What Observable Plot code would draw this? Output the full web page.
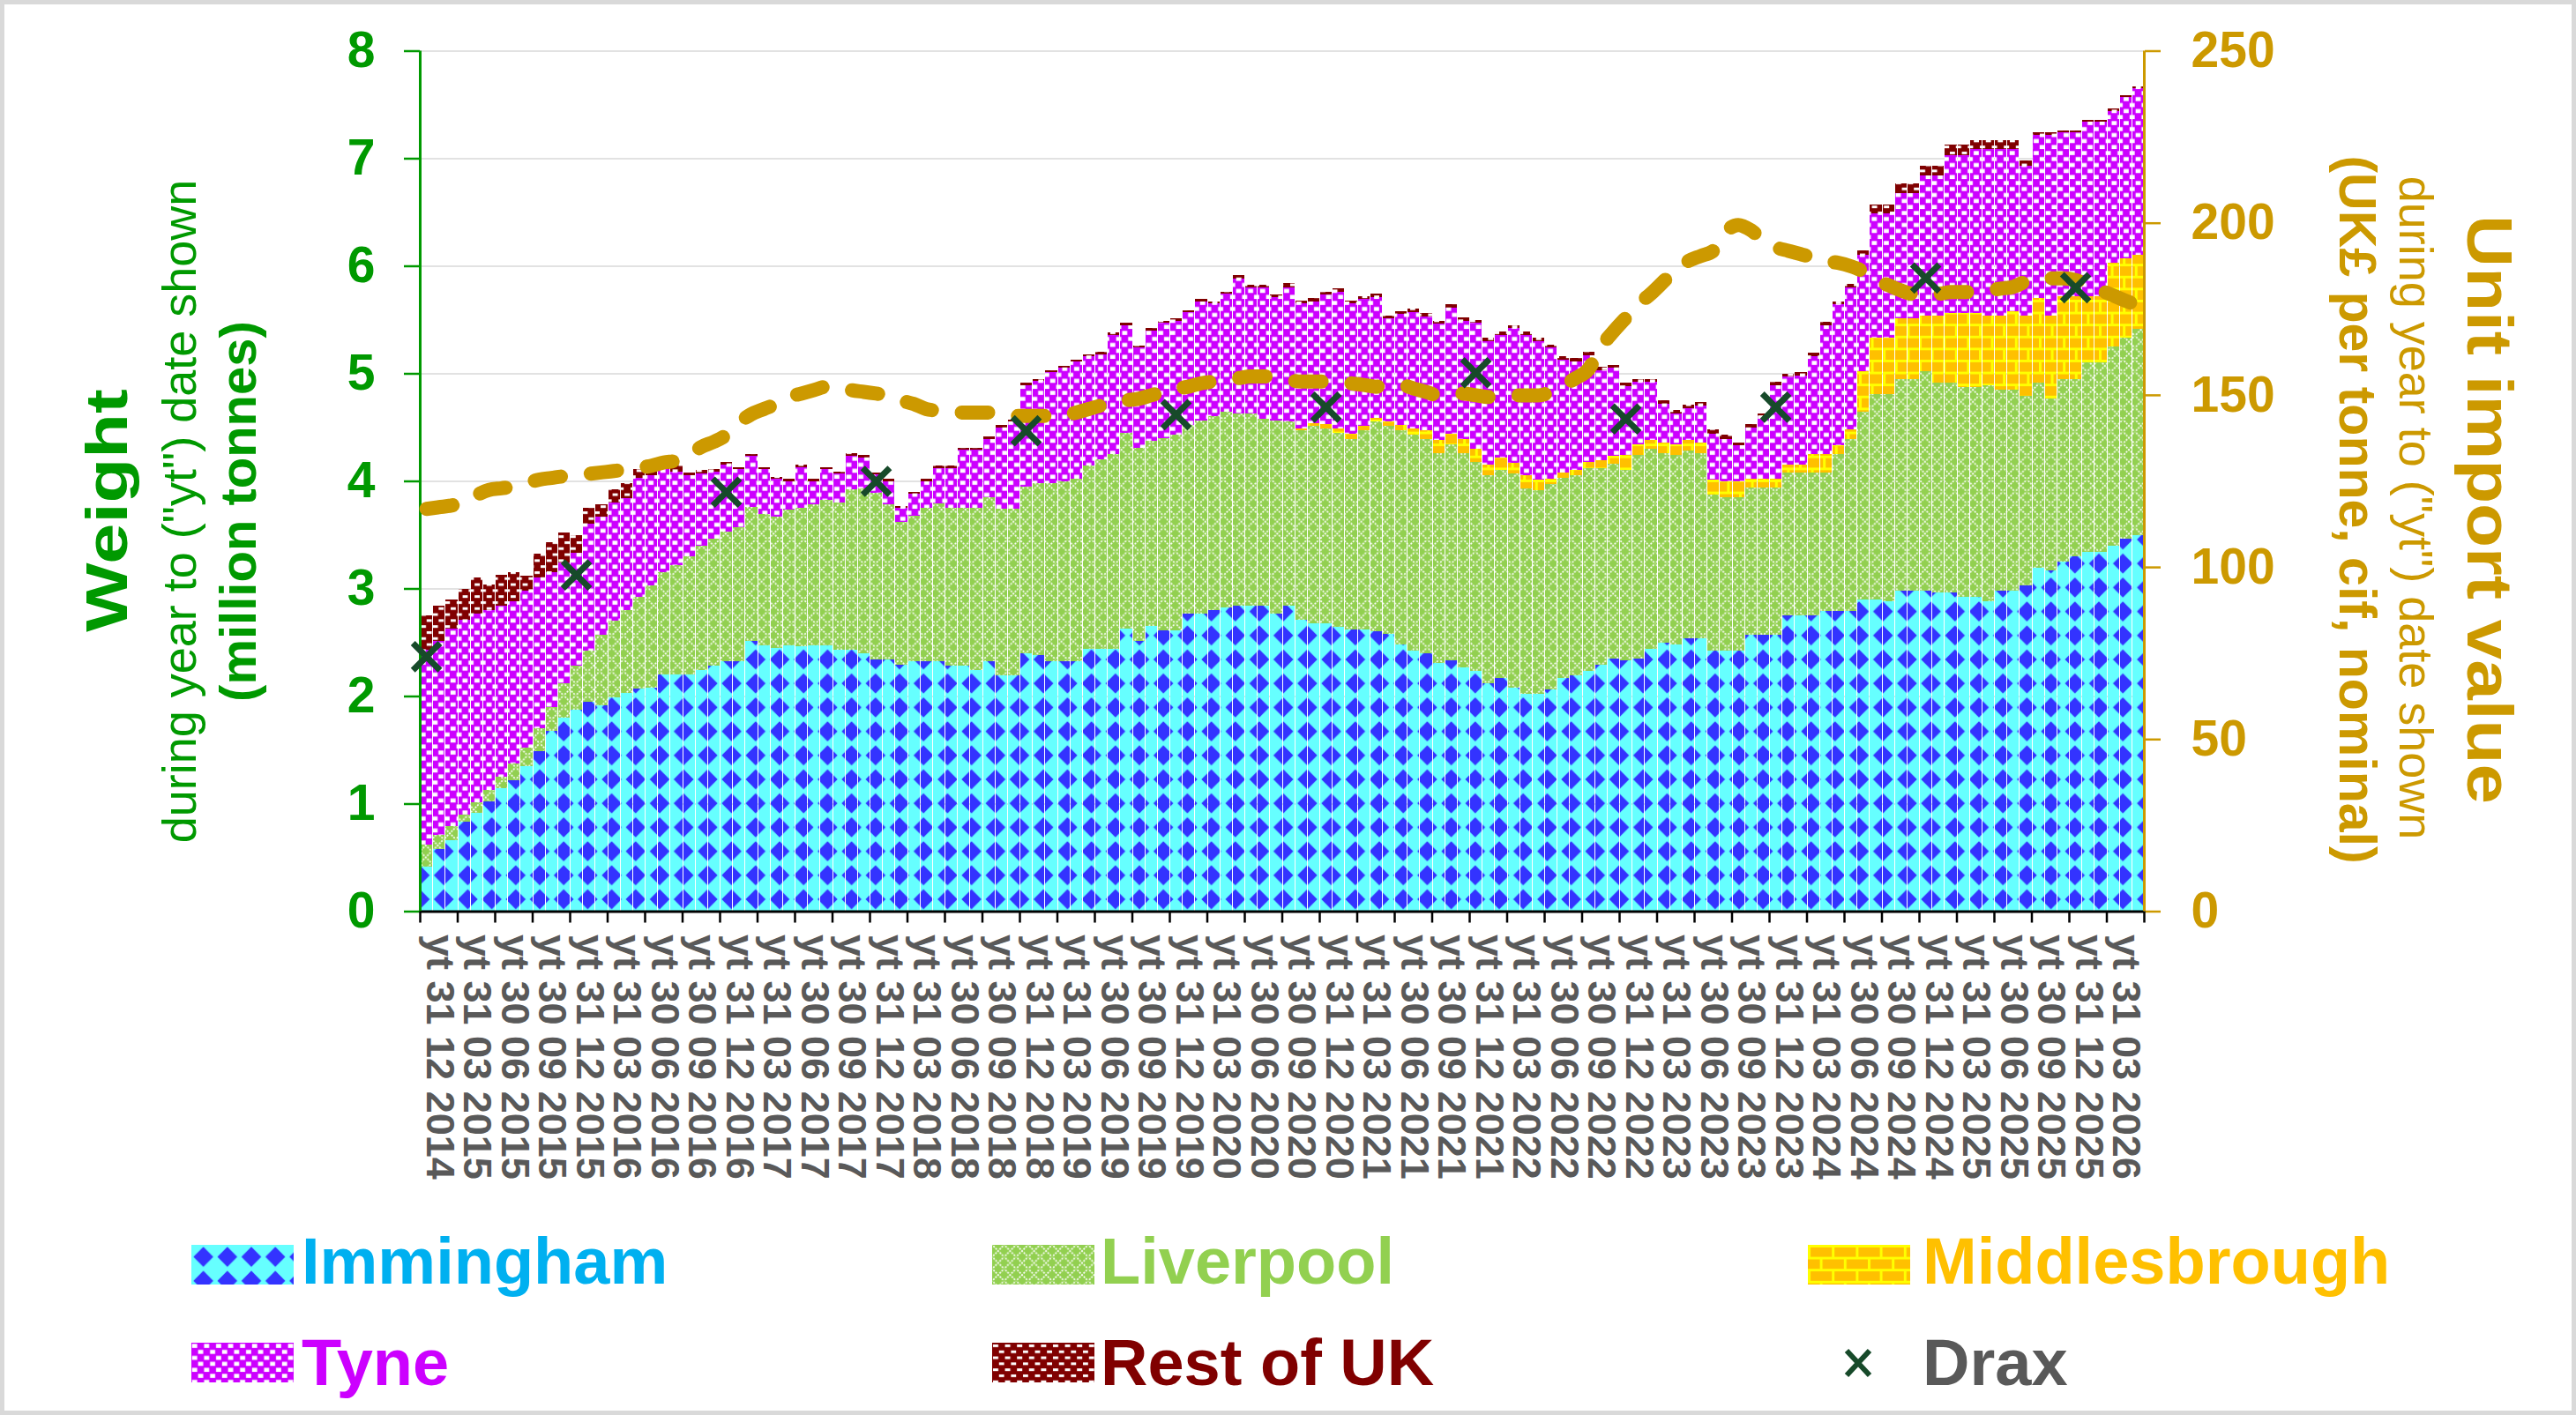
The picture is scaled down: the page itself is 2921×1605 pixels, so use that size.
<!DOCTYPE html>
<html><head><meta charset="utf-8">
<script src="https://cdn.jsdelivr.net/npm/d3@7"></script>
<script src="https://cdn.jsdelivr.net/npm/@observablehq/plot@0.6"></script>
<style>
html,body{margin:0;padding:0;background:#fff;}
#page{position:relative;width:2921px;height:1605px;overflow:hidden;background:#fff;font-family:"Liberation Sans",Arial,sans-serif;}
#frame{position:absolute;left:0;top:0;width:2921px;height:1605px;box-sizing:border-box;border:5px solid #D9D9D9;pointer-events:none;}
#chart{position:absolute;left:0;top:0;}
.rot{position:absolute;white-space:nowrap;line-height:1;}
.leg{position:absolute;font-weight:bold;font-size:74px;line-height:1;white-space:nowrap;}
.sw{position:absolute;}
</style></head>
<body><div id="page">
<svg width="0" height="0" style="position:absolute;left:0;top:0"><defs>
  <pattern id="pImm" patternUnits="userSpaceOnUse" width="27.2" height="27.2">
    <rect width="27.2" height="27.2" fill="#66FFFF"/>
    <polygon points="13.6,2.3 24.9,13.6 13.6,24.9 2.3,13.6" fill="#3333FF"/>
  </pattern>
  <pattern id="pLiv" patternUnits="userSpaceOnUse" width="13.6" height="13.6">
    <rect width="13.6" height="13.6" fill="#92D050"/>
    <path d="M-1,-1L14.6,14.6M14.6,-1L-1,14.6" stroke="#FFFFFF" stroke-width="1.7" stroke-dasharray="2,1.4"/>
  </pattern>
  <pattern id="pMid" patternUnits="userSpaceOnUse" width="27.2" height="27.2">
    <rect width="27.2" height="27.2" fill="#FFC000"/>
    <path d="M0,1.5H27.2M0,15.1H27.2M1.5,0V13.6M15.1,13.6V27.2" stroke="#FFFF00" stroke-width="3"/>
  </pattern>
  <pattern id="pTyne" patternUnits="userSpaceOnUse" width="13.6" height="13.6">
    <rect width="13.6" height="13.6" fill="#CC00FF"/>
    <rect x="0.8" y="1.3" width="5.8" height="4.6" fill="#FFFFFF"/>
    <rect x="7.6" y="8.1" width="5.8" height="4.6" fill="#FFFFFF"/>
  </pattern>
  <pattern id="pRest" patternUnits="userSpaceOnUse" width="13.6" height="13.6">
    <rect width="13.6" height="13.6" fill="#800000"/>
    <rect x="1" y="2" width="6" height="3" fill="#FFFFFF"/>
    <rect x="7.8" y="8.8" width="6" height="3" fill="#FFFFFF"/>
  </pattern>
</defs></svg>

<div id="chart"></div>

<div class="rot" style="left:120px;top:579px;font-size:67px;font-weight:bold;color:#009900;transform:translate(-50%,-50%) rotate(-90deg) scaleX(1.24);">Weight</div>
<div class="rot" style="left:203px;top:580px;font-size:54px;color:#009900;transform:translate(-50%,-50%) rotate(-90deg);">during year to ("yt") date shown</div>
<div class="rot" style="left:270px;top:580px;font-size:58px;font-weight:bold;color:#009900;transform:translate(-50%,-50%) rotate(-90deg);">(million tonnes)</div>

<div class="rot" style="left:2823px;top:578px;font-size:73px;font-weight:bold;color:#CC9900;transform:translate(-50%,-50%) rotate(90deg) scaleX(1.12);">Unit import value</div>
<div class="rot" style="left:2740px;top:576px;font-size:54px;color:#CC9900;transform:translate(-50%,-50%) rotate(90deg);">during year to ("yt") date shown</div>
<div class="rot" style="left:2672px;top:578px;font-size:59px;font-weight:bold;color:#CC9900;transform:translate(-50%,-50%) rotate(90deg);">(UK£ per tonne, cif, nominal)</div>

<svg class="sw" style="left:217px;top:1412px" width="116" height="45"><rect width="116" height="45" fill="url(#pImm)"/></svg>
<div class="leg" style="left:342px;top:1394px;color:#00B0F0;">Immingham</div>
<svg class="sw" style="left:1125px;top:1412px" width="116" height="45"><rect width="116" height="45" fill="url(#pLiv)"/></svg>
<div class="leg" style="left:1248px;top:1394px;color:#92D050;">Liverpool</div>
<svg class="sw" style="left:2050px;top:1412px" width="116" height="45"><rect width="116" height="45" fill="url(#pMid)"/></svg>
<div class="leg" style="left:2180px;top:1394px;color:#FFC000;">Middlesbrough</div>

<svg class="sw" style="left:217px;top:1523px" width="116" height="45"><rect width="116" height="45" fill="url(#pTyne)"/></svg>
<div class="leg" style="left:342px;top:1509px;color:#CC00FF;">Tyne</div>
<svg class="sw" style="left:1125px;top:1523px" width="116" height="45"><rect width="116" height="45" fill="url(#pRest)"/></svg>
<div class="leg" style="left:1248px;top:1509px;color:#800000;">Rest of UK</div>
<svg class="sw" style="left:2089px;top:1528px" width="36" height="36"><path d="M5,4L31,32M31,4L5,32" stroke="#174A2A" stroke-width="6"/></svg>
<div class="leg" style="left:2180px;top:1509px;color:#595959;">Drax</div>

<div id="frame"></div>
</div>
<script>
// ---- Data (million tonnes, year to date shown; monthly from Dec 2014 to May 2026) ----
const immingham = [
0.41,0.58,0.66,0.83,0.91,1.02,1.14,1.22,1.35,1.49,
1.68,1.80,1.87,1.95,1.91,1.99,2.03,2.07,2.08,2.20,
2.20,2.20,2.24,2.28,2.32,2.32,2.51,2.47,2.45,2.47,
2.46,2.47,2.47,2.43,2.43,2.40,2.34,2.34,2.29,2.32,
2.32,2.32,2.28,2.28,2.24,2.32,2.19,2.19,2.40,2.38,
2.32,2.32,2.32,2.44,2.44,2.44,2.63,2.51,2.65,2.61,
2.61,2.77,2.77,2.80,2.82,2.84,2.84,2.84,2.77,2.84,
2.71,2.68,2.68,2.64,2.62,2.62,2.60,2.58,2.48,2.42,
2.40,2.31,2.33,2.27,2.23,2.12,2.17,2.08,2.02,2.02,
2.06,2.17,2.19,2.23,2.29,2.35,2.33,2.35,2.44,2.50,
2.48,2.54,2.54,2.42,2.42,2.42,2.57,2.57,2.57,2.75,
2.75,2.75,2.79,2.79,2.79,2.90,2.90,2.88,2.98,2.98,
2.98,2.96,2.96,2.92,2.92,2.88,2.98,2.98,3.03,3.19,
3.17,3.25,3.30,3.34,3.34,3.40,3.46,3.50];
const liverpool = [
0.21,0.13,0.13,0.07,0.10,0.11,0.11,0.15,0.17,0.21,
0.22,0.32,0.41,0.47,0.66,0.71,0.77,0.85,0.95,0.95,
1.02,1.10,1.16,1.18,1.21,1.25,1.25,1.22,1.22,1.26,
1.29,1.31,1.35,1.37,1.49,1.53,1.55,1.44,1.33,1.36,
1.43,1.47,1.47,1.47,1.51,1.53,1.55,1.55,1.55,1.60,
1.66,1.68,1.70,1.70,1.76,1.81,1.82,1.80,1.72,1.79,
1.82,1.75,1.79,1.80,1.82,1.79,1.79,1.74,1.79,1.71,
1.76,1.83,1.81,1.81,1.77,1.85,1.95,1.93,1.99,2.01,
1.99,1.95,2.01,1.99,1.95,1.93,1.93,1.99,1.91,1.89,
1.91,1.86,1.86,1.89,1.83,1.81,1.77,1.89,1.86,1.76,
1.76,1.74,1.72,1.45,1.43,1.43,1.37,1.37,1.37,1.33,
1.33,1.33,1.29,1.46,1.60,1.74,1.91,1.93,1.97,1.97,
2.04,1.95,1.95,1.95,1.95,2.01,1.87,1.87,1.76,1.72,
1.60,1.70,1.65,1.76,1.76,1.85,1.87,1.91];
const middlesbrough = [
0,0,0,0,0,0,0,0,0,0,
0,0,0,0,0,0,0,0,0,0,
0,0,0,0,0,0,0,0,0,0,
0,0,0,0,0,0,0,0,0,0,
0,0,0,0,0,0,0,0,0,0,
0,0,0,0,0,0,0,0,0,0,
0,0,0,0,0,0,0,0,0,0,
0.02,0.03,0.04,0.04,0.05,0.04,0.04,0.04,0.05,0.06,
0.08,0.12,0.10,0.13,0.12,0.10,0.12,0.10,0.12,0.10,
0.05,0.05,0.05,0.06,0.07,0.07,0.14,0.10,0.08,0.10,
0.10,0.10,0.10,0.14,0.15,0.15,0.08,0.08,0.08,0.07,
0.07,0.17,0.17,0.08,0.09,0.38,0.52,0.52,0.56,0.56,
0.52,0.63,0.65,0.69,0.69,0.65,0.69,0.73,0.75,0.79,
0.77,0.77,0.77,0.62,0.62,0.78,0.74,0.69];
const tyne = [
1.81,1.80,1.84,1.81,1.76,1.67,1.59,1.51,1.46,1.40,
1.25,1.12,1.05,1.18,1.10,1.10,1.04,1.11,1.02,0.96,
0.87,0.75,0.67,0.63,0.62,0.54,0.47,0.42,0.35,0.27,
0.38,0.22,0.29,0.27,0.31,0.29,0.17,0.22,0.13,0.20,
0.25,0.33,0.37,0.54,0.54,0.54,0.76,0.81,0.94,0.95,
1.03,1.05,1.09,1.02,0.98,1.11,1.00,0.93,1.03,1.07,
1.06,1.05,1.11,1.05,1.10,1.25,1.17,1.22,1.15,1.25,
1.16,1.13,1.20,1.27,1.21,1.18,1.12,0.96,1.03,1.08,
1.06,1.08,1.17,1.10,1.17,1.15,1.14,1.25,1.31,1.29,
1.22,1.05,1.01,0.99,0.84,0.82,0.64,0.58,0.54,0.36,
0.29,0.30,0.34,0.43,0.39,0.33,0.48,0.58,0.87,0.82,
0.83,0.91,1.20,1.31,1.32,1.08,1.16,1.16,1.17,1.17,
1.30,1.30,1.47,1.47,1.53,1.55,1.55,1.51,1.39,1.52,
1.68,1.52,1.52,1.62,1.62,1.41,1.50,1.55];
const restOfUK = [
0.32,0.33,0.27,0.29,0.33,0.24,0.29,0.27,0.14,0.22,
0.28,0.28,0.17,0.15,0.11,0.12,0.14,0.08,0.07,0.07,
0.06,0.03,0.03,0.02,0.03,0.02,0.02,0.02,0.02,0.02,
0.02,0.02,0.02,0.02,0.03,0.02,0.02,0.02,0.02,0.02,
0.02,0.02,0.02,0.02,0.02,0.02,0.02,0.02,0.02,0.02,
0.02,0.02,0.02,0.02,0.02,0.02,0.02,0.02,0.02,0.02,
0.02,0.02,0.02,0.02,0.02,0.03,0.02,0.02,0.02,0.04,
0.03,0.03,0.03,0.03,0.03,0.03,0.03,0.03,0.03,0.03,
0.03,0.03,0.03,0.03,0.03,0.03,0.03,0.03,0.03,0.03,
0.03,0.03,0.03,0.03,0.03,0.03,0.03,0.03,0.03,0.03,
0.03,0.03,0.03,0.04,0.04,0.03,0.03,0.03,0.03,0.03,
0.03,0.03,0.03,0.03,0.03,0.04,0.08,0.08,0.09,0.09,
0.09,0.09,0.10,0.10,0.08,0.08,0.08,0.08,0.05,0.02,
0.02,0.02,0.02,0.02,0.02,0.02,0.02,0.02];
// Unit import value, UK£ per tonne (right axis)
const unitValue = [
117,117.5,118,119,121,122.5,123,123.5,124.5,125.5,
126,126.5,126.8,127.2,127.6,128,128.5,129,129.5,130.5,
131,132.5,135,136.5,138.5,142,144.5,146,147.5,149.5,
150.5,151.5,152.5,152.5,151.5,151,150.5,150,148.5,147.5,
146,145.5,145,145,145,145,144.5,144,144,144,
144,144,145,146,147,147.5,148.5,149,150,151,
152,152.5,153.5,154,154.5,155,155.5,155.5,155,154.5,
154,154,154,154,153.5,153,152.5,153,153,152,
151,150,150.5,150.5,150,149.5,149.5,150,150,150,
151,153,155,157.5,164,168.5,172.5,176.5,179.5,183,
186.5,189,190.5,192,197.5,199.5,198,195,193,192,
191,190,189,188.5,187.5,186,183.5,182,180.5,179.5,
179.5,179.5,180,180,180,180.5,181,181.5,183,183.5,
184,184,183.5,182,180.5,179,177.5,176];
// Drax (annual, December)
const draxMonth = [0,12,24,36,48,60,72,84,96,108,120,132];
const draxValue = [2.37,3.13,3.90,4.00,4.47,4.62,4.69,5.01,4.58,4.69,5.89,5.80];
// Tick labels (every third month)
const xTickLabels = [
"yt 31 12 2014",
"yt 31 03 2015","yt 30 06 2015","yt 30 09 2015","yt 31 12 2015",
"yt 31 03 2016","yt 30 06 2016","yt 30 09 2016","yt 31 12 2016",
"yt 31 03 2017","yt 30 06 2017","yt 30 09 2017","yt 31 12 2017",
"yt 31 03 2018","yt 30 06 2018","yt 30 09 2018","yt 31 12 2018",
"yt 31 03 2019","yt 30 06 2019","yt 30 09 2019","yt 31 12 2019",
"yt 31 03 2020","yt 30 06 2020","yt 30 09 2020","yt 31 12 2020",
"yt 31 03 2021","yt 30 06 2021","yt 30 09 2021","yt 31 12 2021",
"yt 31 03 2022","yt 30 06 2022","yt 30 09 2022","yt 31 12 2022",
"yt 31 03 2023","yt 30 06 2023","yt 30 09 2023","yt 31 12 2023",
"yt 31 03 2024","yt 30 06 2024","yt 30 09 2024","yt 31 12 2024",
"yt 31 03 2025","yt 30 06 2025","yt 30 09 2025","yt 31 12 2025",
"yt 31 03 2026"];
const weightTicks = [0,1,2,3,4,5,6,7,8];
const valueTicks = [0,50,100,150,200,250];
const seriesNames = ["Immingham","Liverpool","Middlesbrough","Tyne","Rest of UK"];
const seriesFills = ["url(#pImm)","url(#pLiv)","url(#pMid)","url(#pTyne)","url(#pRest)"];

// ---- Build tables ----
const seriesArrays = [immingham, liverpool, middlesbrough, tyne, restOfUK];
const nMonths = immingham.length;
const stackRows = [];
seriesNames.forEach((name, s) => seriesArrays[s].forEach((v, i) => stackRows.push({i, series: name, value: v})));
const yMax = 8, vMax = 250, k = yMax / vMax;
const priceRows = unitValue.map((p, i) => ({x: i + 0.5, y: p * k}));
const draxRows = draxMonth.map((m, j) => ({x: m + 0.5, y: draxValue[j]}));
const labelRows = xTickLabels.map((t, j) => ({x: j * 3 + 0.5, label: t}));
const tickPos = d3.range(0, nMonths + 1, 3);

const chart = Plot.plot({
  width: 2921, height: 1400,
  marginLeft: 476, marginRight: 490, marginTop: 57.5, marginBottom: 366.5,
  style: {background: "none", overflow: "visible", fontFamily: "Liberation Sans, Arial, sans-serif"},
  x: {domain: [0, nMonths]},
  y: {domain: [0, yMax]},
  color: {type: "ordinal", domain: seriesNames, range: seriesFills},
  marks: [
    Plot.gridY(weightTicks.filter(d => d > 0), {stroke: "#D9D9D9", strokeOpacity: 1, strokeWidth: 1.5}),
    Plot.rectY(stackRows, {x: "i", interval: 1, y: "value", fill: "series", shapeRendering: "crispEdges"}),
    Plot.ruleY([0], {stroke: "#000000", strokeWidth: 3}),
    Plot.ruleX([0], {stroke: "#009900", strokeWidth: 3}),
    Plot.ruleX([nMonths], {stroke: "#CC9900", strokeWidth: 3}),
    Plot.axisY(weightTicks, {anchor: "left", tickSize: 18, tickPadding: 33, fontSize: 57, fontWeight: "bold", color: "#009900", strokeWidth: 2.5, label: null, tickFormat: d => String(d)}),
    Plot.axisY(valueTicks.map(v => v * k), {anchor: "right", tickSize: 18, tickPadding: 35, fontSize: 57, fontWeight: "bold", color: "#CC9900", strokeWidth: 2.5, label: null, tickFormat: d => String(Math.round(d / k))}),
    Plot.axisX(tickPos, {anchor: "bottom", tickSize: 13, tickFormat: () => "", color: "#000000", strokeWidth: 2.5, label: null}),
    Plot.text(labelRows, {x: "x", text: "label", frameAnchor: "bottom", rotate: 90, textAnchor: "start", dy: 26, fontSize: 45, fontWeight: "bold", fill: "#595959"}),
    Plot.line(priceRows, {x: "x", y: "y", stroke: "#CC9900", strokeWidth: 16, strokeDasharray: "30,34", strokeLinecap: "round", strokeLinejoin: "round", curve: "monotone-x"}),
    Plot.dot(draxRows, {x: "x", y: "y", symbol: "times", r: 14, stroke: "#174A2A", strokeWidth: 7})
  ]
});
document.getElementById("chart").appendChild(chart);
</script>
</body></html>
